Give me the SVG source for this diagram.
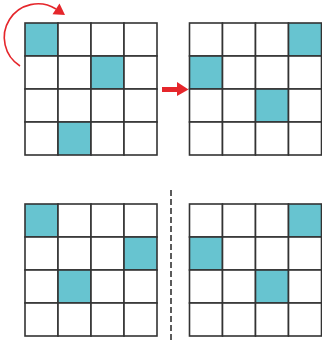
<svg xmlns="http://www.w3.org/2000/svg" width="322" height="343" viewBox="0 0 322 343">
<style>
.cell{fill:#ffffff;stroke:#333333;stroke-width:1.6}
.on{fill:#67C4D0;stroke:#333333;stroke-width:1.6}
.red{fill:#E5262B}
</style>
<rect width="322" height="343" fill="#ffffff"/>
<g id="grid1" transform="translate(25,23)">
<rect class="on" x="0" y="0" width="33" height="33"/><rect class="cell" x="33" y="0" width="33" height="33"/><rect class="cell" x="66" y="0" width="33" height="33"/><rect class="cell" x="99" y="0" width="33" height="33"/>
<rect class="cell" x="0" y="33" width="33" height="33"/><rect class="cell" x="33" y="33" width="33" height="33"/><rect class="on" x="66" y="33" width="33" height="33"/><rect class="cell" x="99" y="33" width="33" height="33"/>
<rect class="cell" x="0" y="66" width="33" height="33"/><rect class="cell" x="33" y="66" width="33" height="33"/><rect class="cell" x="66" y="66" width="33" height="33"/><rect class="cell" x="99" y="66" width="33" height="33"/>
<rect class="cell" x="0" y="99" width="33" height="33"/><rect class="on" x="33" y="99" width="33" height="33"/><rect class="cell" x="66" y="99" width="33" height="33"/><rect class="cell" x="99" y="99" width="33" height="33"/>
</g>
<g id="grid2" transform="translate(189.5,23)">
<rect class="cell" x="0" y="0" width="33" height="33"/><rect class="cell" x="33" y="0" width="33" height="33"/><rect class="cell" x="66" y="0" width="33" height="33"/><rect class="on" x="99" y="0" width="33" height="33"/>
<rect class="on" x="0" y="33" width="33" height="33"/><rect class="cell" x="33" y="33" width="33" height="33"/><rect class="cell" x="66" y="33" width="33" height="33"/><rect class="cell" x="99" y="33" width="33" height="33"/>
<rect class="cell" x="0" y="66" width="33" height="33"/><rect class="cell" x="33" y="66" width="33" height="33"/><rect class="on" x="66" y="66" width="33" height="33"/><rect class="cell" x="99" y="66" width="33" height="33"/>
<rect class="cell" x="0" y="99" width="33" height="33"/><rect class="cell" x="33" y="99" width="33" height="33"/><rect class="cell" x="66" y="99" width="33" height="33"/><rect class="cell" x="99" y="99" width="33" height="33"/>
</g>
<g id="grid3" transform="translate(25,204)">
<rect class="on" x="0" y="0" width="33" height="33"/><rect class="cell" x="33" y="0" width="33" height="33"/><rect class="cell" x="66" y="0" width="33" height="33"/><rect class="cell" x="99" y="0" width="33" height="33"/>
<rect class="cell" x="0" y="33" width="33" height="33"/><rect class="cell" x="33" y="33" width="33" height="33"/><rect class="cell" x="66" y="33" width="33" height="33"/><rect class="on" x="99" y="33" width="33" height="33"/>
<rect class="cell" x="0" y="66" width="33" height="33"/><rect class="on" x="33" y="66" width="33" height="33"/><rect class="cell" x="66" y="66" width="33" height="33"/><rect class="cell" x="99" y="66" width="33" height="33"/>
<rect class="cell" x="0" y="99" width="33" height="33"/><rect class="cell" x="33" y="99" width="33" height="33"/><rect class="cell" x="66" y="99" width="33" height="33"/><rect class="cell" x="99" y="99" width="33" height="33"/>
</g>
<g id="grid4" transform="translate(189.5,204)">
<rect class="cell" x="0" y="0" width="33" height="33"/><rect class="cell" x="33" y="0" width="33" height="33"/><rect class="cell" x="66" y="0" width="33" height="33"/><rect class="on" x="99" y="0" width="33" height="33"/>
<rect class="on" x="0" y="33" width="33" height="33"/><rect class="cell" x="33" y="33" width="33" height="33"/><rect class="cell" x="66" y="33" width="33" height="33"/><rect class="cell" x="99" y="33" width="33" height="33"/>
<rect class="cell" x="0" y="66" width="33" height="33"/><rect class="cell" x="33" y="66" width="33" height="33"/><rect class="on" x="66" y="66" width="33" height="33"/><rect class="cell" x="99" y="66" width="33" height="33"/>
<rect class="cell" x="0" y="99" width="33" height="33"/><rect class="cell" x="33" y="99" width="33" height="33"/><rect class="cell" x="66" y="99" width="33" height="33"/><rect class="cell" x="99" y="99" width="33" height="33"/>
</g>
<g id="connectors">
<path d="M20,66 A33.7,33.7 0 1 1 56,9" fill="none" stroke="#E5262B" stroke-width="1.6"/>
<polygon class="red" points="65,15 52.5,14.2 59.5,3.5"/>
<rect class="red" x="162" y="87" width="16.5" height="5"/>
<polygon class="red" points="177,82 188.5,89.5 177,96"/>
<line x1="171" y1="190" x2="171" y2="343" stroke="#333333" stroke-width="1.6" stroke-dasharray="6 3"/>
</g>
</svg>
